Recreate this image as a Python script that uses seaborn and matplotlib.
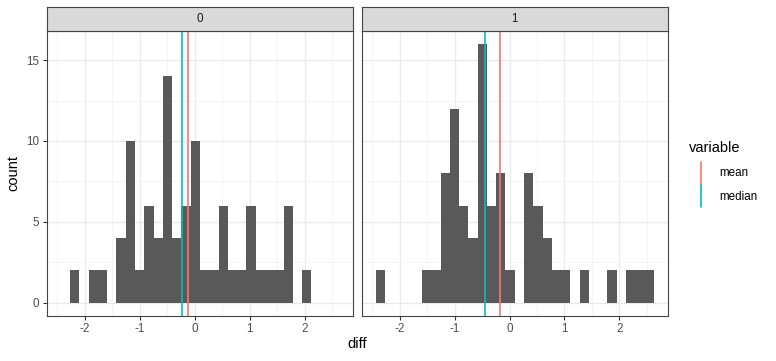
import numpy as np
import pandas as pd
import matplotlib
matplotlib.use("Agg")
import matplotlib.pyplot as plt
from matplotlib.lines import Line2D
import seaborn as sns

sns.set_theme(style="white")
plt.rcParams['font.family'] = ['Liberation Sans', 'DejaVu Sans']
plt.rcParams['axes.unicode_minus'] = False

# ---- data ----
facets = ["0", "1"]
bin_start = -2.442
bin_width = 0.1691
n_bins = 30
counts_0 = [0, 2, 0, 2, 2, 0, 4, 10, 2, 6, 4, 14, 4, 6, 10, 2, 2, 6, 2, 2, 6, 2, 2, 2, 6, 0, 2, 0, 0, 0]
counts_1 = [2, 0, 0, 0, 0, 2, 2, 8, 12, 6, 4, 16, 6, 8, 2, 0, 8, 6, 4, 2, 2, 0, 2, 0, 0, 2, 0, 2, 2, 2]
mean_vals = [-0.12, -0.18]
median_vals = [-0.24, -0.44]
stat_names = ["mean", "median"]
stat_colors = ["#F8766D", "#00BFC4"]
x_ticks = [-2, -1, 0, 1, 2]
y_ticks = [0, 5, 10, 15]

edges = [bin_start + bin_width * k for k in range(n_bins + 1)]
centers = [(edges[k] + edges[k + 1]) / 2 for k in range(n_bins)]
df = pd.concat([
    pd.DataFrame({"diff": np.repeat(centers, counts_0), "facet": facets[0]}),
    pd.DataFrame({"diff": np.repeat(centers, counts_1), "facet": facets[1]}),
], ignore_index=True)

W, H = 776, 361
fig = plt.figure(figsize=(W / 100, H / 100), dpi=100)

def fx(px):
    return px / W

def fy(py):
    return 1 - py / H

panel_x = [(46.7, 353.3), (361.7, 667.7)]
top, bottom = 31.0, 315.7
strip_top = 7.3

small = 8.4
big = 10.5

xr = (edges[-1] - edges[0])
xlim = (edges[0] - 0.05 * xr, edges[-1] + 0.05 * xr)
ymax = max(max(counts_0), max(counts_1))
ylim = (-0.05 * ymax, ymax * 1.05)

for i, f in enumerate(facets):
    x0, x1 = panel_x[i]
    ax = fig.add_axes([fx(x0), fy(bottom), fx(x1) - fx(x0), fy(top) - fy(bottom)])
    sub = df[df["facet"] == f]
    sns.histplot(data=sub, x="diff", bins=edges, ax=ax,
                 color="#595959", alpha=1, linewidth=0, zorder=3)
    ax.set_xlim(*xlim)
    ax.set_ylim(*ylim)
    ax.set_xticks(x_ticks)
    ax.set_yticks(y_ticks)
    ax.set_xticks(np.arange(-2.5, 3.0, 1.0), minor=True)
    ax.set_yticks([2.5, 7.5, 12.5], minor=True)
    ax.grid(True, which="major", color="#EBEBEB", linewidth=1.0, zorder=0)
    ax.grid(True, which="minor", color="#F3F3F3", linewidth=0.6, zorder=0)
    ax.set_axisbelow(True)
    for s in ax.spines.values():
        s.set_color("#444444")
        s.set_linewidth(0.8)
        s.set_visible(True)
    ax.tick_params(axis="both", which="major", length=3.2, width=0.8, color="#333333",
                   labelsize=small, labelcolor="#4D4D4D", pad=2.2, bottom=True, left=(i == 0))
    ax.tick_params(axis="both", which="minor", length=0)
    if i > 0:
        ax.set_yticklabels([])
        ax.tick_params(axis="y", which="major", length=0)
    ax.set_xlabel("")
    ax.set_ylabel("")
    ax.axvline(mean_vals[i], color=stat_colors[0], linewidth=1.2, zorder=4)
    ax.axvline(median_vals[i], color=stat_colors[1], linewidth=1.2, zorder=4)

    # strip
    sax = fig.add_axes([fx(x0), fy(top), fx(x1) - fx(x0), fy(strip_top) - fy(top)])
    sax.set_facecolor("#D9D9D9")
    sax.set_xticks([])
    sax.set_yticks([])
    for s in sax.spines.values():
        s.set_color("#444444")
        s.set_linewidth(0.8)
    sax.text(0.5, 0.5, f, ha="center", va="center", fontsize=small, color="#1A1A1A",
             transform=sax.transAxes)

fig.text(fx(13), fy(173), "count", rotation=90, ha="center", va="center", fontsize=big, color="black")
fig.text(fx(357), fy(344), "diff", ha="center", va="center", fontsize=big, color="black")

# legend
fig.text(fx(689), fy(147.5), "variable", ha="left", va="center", fontsize=big, color="black")
key_y = [(162, 185), (185, 207.5)]
lab_y = [173.5, 196.5]
for k in range(2):
    fig.add_artist(Line2D([fx(701), fx(701)], [fy(key_y[k][0]), fy(key_y[k][1])],
                          color=stat_colors[k], linewidth=1.2, transform=fig.transFigure))
    fig.text(fx(719.5), fy(lab_y[k]), stat_names[k], ha="left", va="center", fontsize=small, color="black")

fig.savefig("out.png", dpi=100, facecolor="white")
